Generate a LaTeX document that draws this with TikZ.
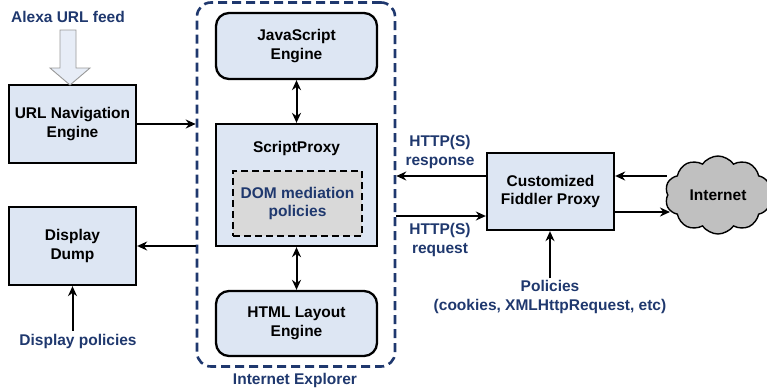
\documentclass[tikz,border=0pt]{standalone}
\usepackage{fontspec}
\setmainfont{Liberation Sans}
\usetikzlibrary{arrows.meta,shapes.symbols}
\definecolor{boxfill}{RGB}{221,230,243}
\definecolor{navy}{RGB}{31,56,110}
\definecolor{domfill}{RGB}{217,217,217}
\definecolor{cloudfill}{RGB}{192,192,192}
\begin{document}
\begin{tikzpicture}[x=1pt,y=-1pt,
  font=\bfseries\fontsize{15.5}{18.5}\selectfont,
  box/.style={draw, line width=2.3pt, fill=boxfill, align=center, inner sep=0pt},
  rbox/.style={box, rounded corners=13pt},
  lbl/.style={text=navy, align=center, inner sep=0pt},
  arr/.style={line width=2pt, -{Stealth[length=10pt,width=9pt]}},
  darr/.style={line width=2pt, {Stealth[length=10pt,width=9pt]}-{Stealth[length=10pt,width=9pt]}}]
\useasboundingbox (0,0) rectangle (767,389);
% Internet Explorer container
\node[draw=navy, line width=2.6pt, dash pattern=on 9pt off 5pt, rounded corners=14pt,
      minimum width=198pt, minimum height=364pt, inner sep=0pt] (ie) at (296,184.5) {};
\node[lbl] (ielbl) at (295,380) {Internet Explorer};
% left side
\node[lbl] (alexa) at (68,17) {Alexa URL feed};
\node[box, minimum width=127pt, minimum height=78pt] (url) at (72.5,124) {URL Navigation\\Engine};
\draw[gray!80, line width=0.9pt, fill=boxfill!70] (60,30) -- (76,30) -- (76,68) -- (90,68) -- (70,85) -- (50,68) -- (60,68) -- cycle;
\node[box, minimum width=127pt, minimum height=78pt] (disp) at (72.5,246) {Display\\Dump};
\node[lbl] (dpol) at (78,341) {Display policies};
% IE internals
\node[rbox, minimum width=161pt, minimum height=66pt] (js) at (296.5,46) {JavaScript\\Engine};
\node[box, minimum width=161pt, minimum height=122pt] (sp) at (296.5,185) {};
\node[inner sep=0pt] (sptxt) at (296.5,148) {ScriptProxy};
\node[draw, line width=2pt, dash pattern=on 7pt off 4pt, fill=domfill, text=navy, align=center,
      minimum width=129pt, minimum height=65pt, inner sep=0pt] (dom) at (297.5,203.5) {DOM mediation\\policies};
\node[rbox, minimum width=161pt, minimum height=65pt] (html) at (296.5,323.5) {HTML Layout\\Engine};
% right side
\node[box, minimum width=127pt, minimum height=77pt] (fid) at (550.5,191.5) {Customized\\Fiddler Proxy};
\node[cloud, cloud puffs=10, cloud puff arc=110, aspect=1.4, draw, line width=1.4pt, fill=cloudfill,
      minimum width=106pt, minimum height=78pt, inner sep=0pt] (cloud) at (718,195) {Internet};
\node[lbl] (resp) at (440,152) {HTTP(S)\\response};
\node[lbl] (req) at (440,240) {HTTP(S)\\request};
\node[lbl] (pol) at (550,297) {Policies\\(cookies, XMLHttpRequest, etc)};
% connectors
\draw[arr] (url.east) -- (url.east -| ie.west);
\draw[arr] (disp.east -| ie.west) -- (disp.east);
\draw[arr] ([yshift=3pt]dpol.north -| disp.south) -- (disp.south);
\draw[darr] (js) -- (sp);
\draw[darr] (sp) -- (html);
\draw[arr] ([yshift=15.5pt]fid.west) -- ([yshift=15.5pt]fid.west -| ie.east);
\draw[arr] ([yshift=-24.5pt]fid.west -| ie.east) -- ([yshift=-24.5pt]fid.west);
\draw[arr] ([yshift=15.5pt]fid.east -| cloud.west) -- ([yshift=15.5pt]fid.east);
\draw[arr] ([yshift=-20.5pt]fid.east) -- ([yshift=-20.5pt,xshift=3pt]fid.east -| cloud.west);
\draw[arr] ([yshift=2pt]pol.north) -- (pol.north |- fid.south);
\end{tikzpicture}
\end{document}
